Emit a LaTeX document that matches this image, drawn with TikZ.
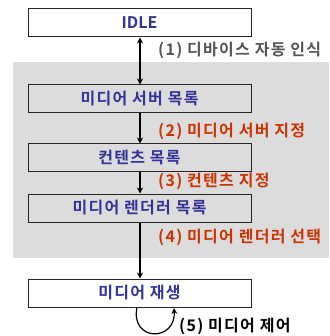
\documentclass[tikz,border=0pt]{standalone}
\usepackage{fontspec}
\setmainfont{Noto Sans CJK KR}[BoldFont={Noto Sans CJK KR Bold},LetterSpace=8]
\usetikzlibrary{arrows.meta}
\definecolor{boxblue}{HTML}{333399}
\definecolor{steporange}{HTML}{CC3300}
\definecolor{stepgray}{HTML}{555555}
\definecolor{bggray}{HTML}{DCDCDC}
\begin{document}
\begin{tikzpicture}[x=1pt,y=-1pt,
  statebox/.style={draw=black!85, line width=1pt, minimum width=223pt, minimum height=28pt, inner sep=0pt,
    font=\fontsize{16}{18}\selectfont\bfseries, text=boxblue},
  steplabel/.style={anchor=west, inner sep=0pt, font=\fontsize{16}{18}\selectfont\bfseries},
  conn/.style={line width=1.2pt, -{Stealth[length=6pt,width=6pt]}}]
\useasboundingbox (0,0) rectangle (329,336);
\fill[bggray] (13,62) rectangle (329,258);
\node[statebox, fill=white] (idle) at (139.5,23) {\addfontfeature{LetterSpace=0}IDLE};
\node[statebox, fill=bggray] (server) at (139.5,99) {미디어 서버 목록};
\node[statebox, fill=bggray] (content) at (139.5,158) {컨텐츠 목록};
\node[statebox, fill=bggray] (renderer) at (139.5,208) {미디어 렌더러 목록};
\node[statebox, fill=white] (play) at (139.5,293) {미디어 재생};
\coordinate (loopstart) at (137,307);
\coordinate (loopend) at (174,308);
\draw[conn, {Stealth[length=6pt,width=6pt]}-{Stealth[length=6pt,width=6pt]}] (idle.south -| 140,0) -- (server.north -| 140,0);
\draw[conn] (server.south -| 140,0) -- (content.north -| 140,0);
\draw[conn] (content.south -| 140,0) -- (renderer.north -| 140,0);
\draw[conn] (renderer.south -| 140,0) -- (play.north -| 140,0);
\draw[conn] (loopstart) .. controls (130,342) and (176,342) .. (loopend);
\node[steplabel, text=stepgray] (l1) at (158,50) {(1) 디바이스 자동 인식};
\node[steplabel, text=steporange] (l2) at (158,131) {(2) 미디어 서버 지정};
\node[steplabel, text=steporange] (l3) at (158,181) {(3) 컨텐츠 지정};
\node[steplabel, text=steporange] (l4) at (158,237) {(4) 미디어 렌더러 선택};
\node[steplabel, text=black] (l5) at (179,326) {(5) 미디어 제어};
\end{tikzpicture}
\end{document}
